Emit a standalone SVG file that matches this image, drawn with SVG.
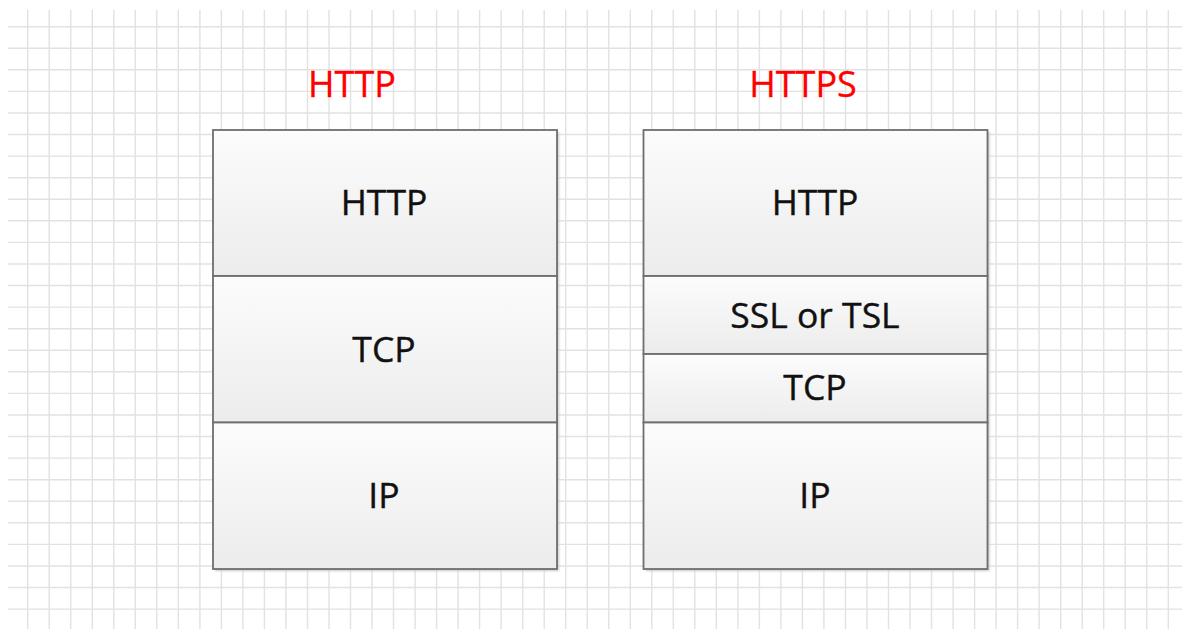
<svg xmlns="http://www.w3.org/2000/svg" width="1182" height="629" viewBox="0 0 1182 629">
  <defs>
    <linearGradient id="cellFill" x1="0" y1="0" x2="0" y2="1">
      <stop offset="0" stop-color="#fcfcfc"/>
      <stop offset="1" stop-color="#ececec"/>
    </linearGradient>
    <filter id="soft" x="-5%" y="-5%" width="110%" height="110%">
      <feGaussianBlur stdDeviation="1.2"/>
    </filter>
  </defs>
  <style>
    .grid { stroke: #e2e2e2; stroke-width: 1.4; fill: none; }
    .cell { fill: url(#cellFill); stroke: #6e6e6e; stroke-width: 1.8; }
    .shadow { fill: #c8c8c8; filter: url(#soft); }
    .label { font-family: "Open Sans", "Liberation Sans", sans-serif; font-size: 35.5px; fill: #111; stroke: #111; stroke-width: 0.4; text-anchor: middle; }
    .title { font-family: "Open Sans", "Liberation Sans", sans-serif; font-size: 36px; fill: #ff0000; stroke: #ff0000; stroke-width: 0.3; text-anchor: middle; }
  </style>

  <rect width="1182" height="629" fill="#ffffff"/>

  <!-- background grid -->
  <g id="grid">
    <path class="grid" d="M27.7 10V629M49.2 10V629M70.7 10V629M92.3 10V629M113.8 10V629M135.3 10V629M156.8 10V629M178.3 10V629M199.9 10V629M221.4 10V629M242.9 10V629M264.4 10V629M285.9 10V629M307.5 10V629M329 10V629M350.5 10V629M372 10V629M393.5 10V629M415.1 10V629M436.6 10V629M458.1 10V629M479.6 10V629M501.1 10V629M522.7 10V629M544.2 10V629M565.7 10V629M587.2 10V629M608.7 10V629M630.3 10V629M651.8 10V629M673.3 10V629M694.8 10V629M716.3 10V629M737.9 10V629M759.4 10V629M780.9 10V629M802.4 10V629M823.9 10V629M845.5 10V629M867 10V629M888.5 10V629M910 10V629M931.5 10V629M953.1 10V629M974.6 10V629M996.1 10V629M1017.6 10V629M1039.1 10V629M1060.7 10V629M1082.2 10V629M1103.7 10V629M1125.2 10V629M1146.7 10V629M1168.3 10V629"/>
    <path class="grid" d="M8 26.7H1182M8 48.3H1182M8 69.8H1182M8 91.4H1182M8 113H1182M8 134.5H1182M8 156.1H1182M8 177.7H1182M8 199.3H1182M8 220.8H1182M8 242.4H1182M8 264H1182M8 285.5H1182M8 307.1H1182M8 328.7H1182M8 350.3H1182M8 371.8H1182M8 393.4H1182M8 415H1182M8 436.5H1182M8 458.1H1182M8 479.7H1182M8 501.3H1182M8 522.8H1182M8 544.4H1182M8 566H1182M8 587.5H1182M8 609.1H1182"/>
  </g>

  <!-- column titles -->
  <text class="title" x="352" y="97">HTTP</text>
  <text class="title" x="803" y="97">HTTPS</text>

  <!-- HTTP stack -->
  <g id="http-stack">
    <rect class="shadow" x="215" y="132" width="344" height="439"/>
    <g id="http-http">
      <rect class="cell" x="213" y="130" width="344" height="146"/>
      <text class="label" x="384" y="215">HTTP</text>
    </g>
    <g id="http-tcp">
      <rect class="cell" x="213" y="276" width="344" height="146.5"/>
      <text class="label" x="384" y="361.5">TCP</text>
    </g>
    <g id="http-ip">
      <rect class="cell" x="213" y="422.5" width="344" height="146.5"/>
      <text class="label" x="384" y="508">IP</text>
    </g>
  </g>

  <!-- HTTPS stack -->
  <g id="https-stack">
    <rect class="shadow" x="645.5" y="132" width="344" height="439"/>
    <g id="https-http">
      <rect class="cell" x="643.5" y="130" width="344" height="146"/>
      <text class="label" x="815" y="215">HTTP</text>
    </g>
    <g id="https-ssl">
      <rect class="cell" x="643.5" y="276" width="344" height="78"/>
      <text class="label" x="815" y="327.5">SSL or TSL</text>
    </g>
    <g id="https-tcp">
      <rect class="cell" x="643.5" y="354" width="344" height="68.5"/>
      <text class="label" x="815" y="400">TCP</text>
    </g>
    <g id="https-ip">
      <rect class="cell" x="643.5" y="422.5" width="344" height="146.5"/>
      <text class="label" x="815" y="508">IP</text>
    </g>
  </g>

  <!-- connectors: none in this layer diagram -->
  <g id="connectors"/>
</svg>
